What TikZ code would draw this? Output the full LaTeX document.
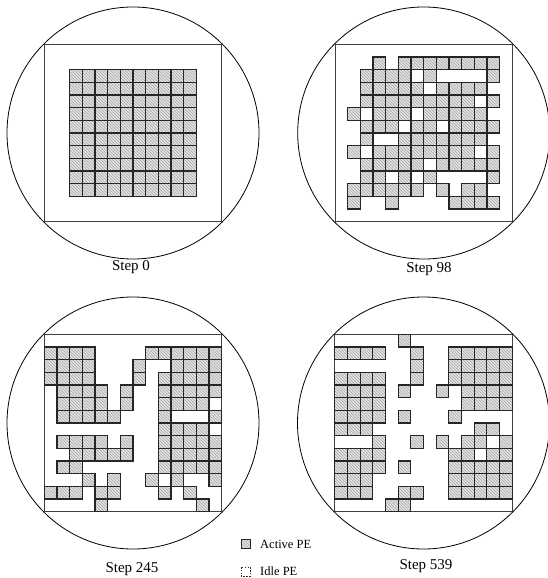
\documentclass[tikz,border=0pt]{standalone}
\usepackage{fontspec}
\setmainfont{Liberation Serif}
\usetikzlibrary{patterns}
\tikzset{
  pecell/.style={draw=black!85, line width=1.1pt, preaction={fill=gray!22}, pattern=north west lines, pattern color=gray!70},
  idlecell/.style={draw=black!80, line width=0.6pt, dash pattern=on 1.5pt off 1.3pt},
  wafer/.style={draw=black, line width=0.8pt},
  frame/.style={draw=black!75, line width=1pt},
  steplabel/.style={font=\fontsize{15}{18}\selectfont, inner sep=0pt},
  legendtext/.style={font=\fontsize{12.5}{15}\selectfont, inner sep=0pt, anchor=west},
}
\newcommand\drawpanel[3]{%
  \draw[frame] (#1,#2) rectangle ++(177.4,177.4);
  \draw[wafer] ({#1+88.7},{#2+88.7}) circle[radius=126];
  \foreach \r/\cl in {#3} {
    \foreach \c in \cl {
      \path[pecell] ({#1+\c*12.67},{#2+\r*12.67}) rectangle ++(12.67,12.67);
    }
  }
}
\begin{document}
\begin{tikzpicture}[x=1pt,y=-1pt]
\useasboundingbox (0,0) rectangle (548,578);
% Step 0
\drawpanel{44.3}{44.3}{2/{2,...,11},3/{2,...,11},4/{2,...,11},5/{2,...,11},6/{2,...,11},7/{2,...,11},8/{2,...,11},9/{2,...,11},10/{2,...,11},11/{2,...,11}}
% Step 98
\drawpanel{335}{44.3}{1/{3,5,6,7,8,9,10,11,12},
2/{2,3,4,5,7,12},
3/{2,3,4,5,6,8,9,10,11},
4/{2,3,4,5,6,7,8,9,10,12},
5/{1,3,4,5,7,8,9,10,11},
6/{2,3,4,6,7,9,10,11,12},
7/{2,5,6,7,8,9,10,11},
8/{1,3,4,5,6,7,8,9,10,12},
9/{2,3,4,5,6,8,9,10,11,12},
10/{2,3,5,7,12},
11/{1,2,3,4,5,6,8,10,11},
12/{1,4,9,10,11,12}}
% Step 245
\drawpanel{44.3}{334.3}{1/{0,1,2,3,8,9,10,11,12,13},
2/{0,1,2,3,7,10,11,12,13},
3/{0,1,2,3,7,9,10,11,12,13},
4/{1,2,3,4,6,9,10,11,12,13},
5/{1,2,3,4,6,9,10,11,12},
6/{1,2,3,4,5,9,13},
7/{9,10,11,12},
8/{1,2,3,4,6,9,10,11,12,13},
9/{2,3,4,5,6,9,10,11,12,13},
10/{1,2,9,10,11,12,13},
11/{3,5,8,10,13},
12/{0,1,2,4,5,9,11},
13/{4,12}}
% Step 539
\drawpanel{334.8}{334.3}{0/{5},
1/{0,1,2,3,6,9,10,11,12,13},
2/{6,9,10,11,12,13},
3/{0,1,2,3,6,9,10,11,12,13},
4/{0,1,2,3,5,8,10,11,12,13},
5/{0,1,2,3,10,11,12,13},
6/{0,1,2,3,5,9},
7/{0,1,2,11,12},
8/{3,6,8,10,11,13},
9/{0,1,2,3,9,10,12,13},
10/{0,1,2,3,5,9,10,11,12,13},
11/{0,1,2,9,10,11,12,13},
12/{0,1,2,5,6,9,10,11,12,13},
13/{4,5}}
% labels
\node[steplabel] (l0) at (131,267) {Step 0};
\node[steplabel] (l98) at (429,269) {Step 98};
\node[steplabel] (l245) at (132,569) {Step 245};
\node[steplabel] (l539) at (426,566) {Step 539};
% legend
\path[pecell, line width=0.8pt] (241,539) rectangle (250,548);
\node[legendtext] (act) at (260,544.5) {Active PE};
\draw[idlecell] (241,567) rectangle (250,576);
\node[legendtext] (idle) at (260,571.5) {Idle PE};
\end{tikzpicture}
\end{document}
